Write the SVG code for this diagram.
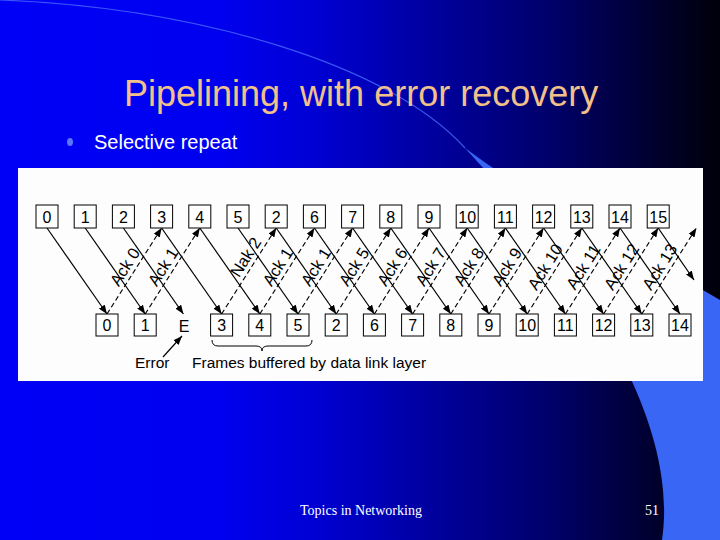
<svg xmlns="http://www.w3.org/2000/svg" width="720" height="540" viewBox="0 0 720 540">
<defs>
<linearGradient id="bg" x1="0" y1="0" x2="720" y2="0" gradientUnits="userSpaceOnUse">
<stop offset="0" stop-color="#0000f6"/>
<stop offset="0.3" stop-color="#0000f0"/>
<stop offset="0.42" stop-color="#0000d8"/>
<stop offset="0.58" stop-color="#0000a5"/>
<stop offset="0.76" stop-color="#00006c"/>
<stop offset="0.9" stop-color="#000032"/>
<stop offset="1" stop-color="#00000a"/>
</linearGradient>
<marker id="ah" markerUnits="userSpaceOnUse" markerWidth="9" markerHeight="7" viewBox="0 0 9 7" refX="9" refY="3.5" orient="auto">
<path d="M0,0 L9,3.5 L0,7 z" fill="#000"/>
</marker>
<style>
.box{fill:#fff;stroke:#000;stroke-width:1}
.num{font-family:"Liberation Sans",Arial,sans-serif;font-size:16px;fill:#000;text-anchor:middle}
.lbl{font-family:"Liberation Sans",Arial,sans-serif;font-size:16.5px;fill:#000;text-anchor:middle}
.cap{font-family:"Liberation Sans",Arial,sans-serif;font-size:15.5px;fill:#000}
.sol{stroke:#000;stroke-width:1.2;fill:none;marker-end:url(#ah)}
.dsh{stroke:#000;stroke-width:1.2;fill:none;stroke-dasharray:5 3;marker-end:url(#ah)}
</style>
</defs>
<rect x="0" y="0" width="720" height="540" fill="url(#bg)"/>
<path d="M0,0 C200,8 390,65 465,148" fill="none" stroke="#4a6cff" stroke-width="1.2" stroke-opacity="0.8"/>
<path d="M465,148 C515,203 685,385 662,540 L720,540 L720,300 C640,252 545,208 465,148 Z" fill="#3a66f6"/>
<text x="124" y="106" font-family="'Liberation Sans',Arial,sans-serif" font-size="36" fill="#f2c08a">Pipelining, with error recovery</text>
<ellipse cx="70" cy="142" rx="3" ry="4" fill="#5a78ff"/>
<text x="94" y="149" font-family="'Liberation Sans',Arial,sans-serif" font-size="20" fill="#ffffff">Selective repeat</text>
<rect x="18" y="168" width="685" height="213" fill="#fdfdfd"/>
<g id="connectors">
<line class="sol" x1="47" y1="228" x2="107" y2="314"/>
<line class="sol" x1="85.2" y1="228" x2="145.2" y2="314"/>
<line class="sol" x1="123.4" y1="228" x2="183.4" y2="314"/>
<line class="sol" x1="161.6" y1="228" x2="221.6" y2="314"/>
<line class="sol" x1="199.8" y1="228" x2="259.8" y2="314"/>
<line class="sol" x1="238" y1="228" x2="298" y2="314"/>
<line class="sol" x1="276.2" y1="228" x2="336.2" y2="314"/>
<line class="sol" x1="314.4" y1="228" x2="374.4" y2="314"/>
<line class="sol" x1="352.6" y1="228" x2="412.6" y2="314"/>
<line class="sol" x1="390.8" y1="228" x2="450.8" y2="314"/>
<line class="sol" x1="429" y1="228" x2="489" y2="314"/>
<line class="sol" x1="467.2" y1="228" x2="527.2" y2="314"/>
<line class="sol" x1="505.4" y1="228" x2="565.4" y2="314"/>
<line class="sol" x1="543.6" y1="228" x2="603.6" y2="314"/>
<line class="sol" x1="581.8" y1="228" x2="641.8" y2="314"/>
<line class="sol" x1="620" y1="228" x2="680" y2="314"/>
<line class="sol" x1="658.2" y1="228" x2="694" y2="280"/>
<line class="dsh" x1="107" y1="314" x2="161.6" y2="228"/>
<line class="dsh" x1="145.2" y1="314" x2="199.8" y2="228"/>
<line class="dsh" x1="221.6" y1="314" x2="276.2" y2="228"/>
<line class="dsh" x1="259.8" y1="314" x2="314.4" y2="228"/>
<line class="dsh" x1="298" y1="314" x2="352.6" y2="228"/>
<line class="dsh" x1="336.2" y1="314" x2="390.8" y2="228"/>
<line class="dsh" x1="374.4" y1="314" x2="429" y2="228"/>
<line class="dsh" x1="412.6" y1="314" x2="467.2" y2="228"/>
<line class="dsh" x1="450.8" y1="314" x2="505.4" y2="228"/>
<line class="dsh" x1="489" y1="314" x2="543.6" y2="228"/>
<line class="dsh" x1="527.2" y1="314" x2="581.8" y2="228"/>
<line class="dsh" x1="565.4" y1="314" x2="620" y2="228"/>
<line class="dsh" x1="603.6" y1="314" x2="658.2" y2="228"/>
<line class="dsh" x1="641.8" y1="314" x2="696.4" y2="228"/>
<line class="sol" x1="163" y1="357" x2="182" y2="336"/>
<path d="M212,340 Q212,346 218,346 L256,346 Q262,346 262,351 Q262,346 268,346 L306,346 Q312,346 312,340" fill="none" stroke="#000" stroke-width="1"/>
</g>
<g id="ack-labels">
<text class="lbl" transform="translate(134.3,271) rotate(-57.6)" x="-1.5" y="-4.5">Ack 0</text>
<text class="lbl" transform="translate(172.5,271) rotate(-57.6)" x="-1.5" y="-4.5">Ack 1</text>
<text class="lbl" transform="translate(248.9,271) rotate(-57.6)" x="10" y="-4.5">Nak 2</text>
<text class="lbl" transform="translate(287.1,271) rotate(-57.6)" x="-1.5" y="-4.5">Ack 1</text>
<text class="lbl" transform="translate(325.3,271) rotate(-57.6)" x="-1.5" y="-4.5">Ack 1</text>
<text class="lbl" transform="translate(363.5,271) rotate(-57.6)" x="-1.5" y="-4.5">Ack 5</text>
<text class="lbl" transform="translate(401.7,271) rotate(-57.6)" x="-1.5" y="-4.5">Ack 6</text>
<text class="lbl" transform="translate(439.9,271) rotate(-57.6)" x="-1.5" y="-4.5">Ack 7</text>
<text class="lbl" transform="translate(478.1,271) rotate(-57.6)" x="-1.5" y="-4.5">Ack 8</text>
<text class="lbl" transform="translate(516.3,271) rotate(-57.6)" x="-1.5" y="-4.5">Ack 9</text>
<text class="lbl" transform="translate(554.5,271) rotate(-57.6)" x="-1.5" y="-4.5">Ack 10</text>
<text class="lbl" transform="translate(592.7,271) rotate(-57.6)" x="-1.5" y="-4.5">Ack 11</text>
<text class="lbl" transform="translate(630.9,271) rotate(-57.6)" x="-1.5" y="-4.5">Ack 12</text>
<text class="lbl" transform="translate(669.1,271) rotate(-57.6)" x="-1.5" y="-4.5">Ack 13</text>
</g>
<g id="t0"><rect class="box" x="36" y="205" width="22" height="23"/><text class="num" x="47" y="222.5">0</text></g>
<g id="t1"><rect class="box" x="74.2" y="205" width="22" height="23"/><text class="num" x="85.2" y="222.5">1</text></g>
<g id="t2"><rect class="box" x="112.4" y="205" width="22" height="23"/><text class="num" x="123.4" y="222.5">2</text></g>
<g id="t3"><rect class="box" x="150.6" y="205" width="22" height="23"/><text class="num" x="161.6" y="222.5">3</text></g>
<g id="t4"><rect class="box" x="188.8" y="205" width="22" height="23"/><text class="num" x="199.8" y="222.5">4</text></g>
<g id="t5"><rect class="box" x="227" y="205" width="22" height="23"/><text class="num" x="238" y="222.5">5</text></g>
<g id="t6"><rect class="box" x="265.2" y="205" width="22" height="23"/><text class="num" x="276.2" y="222.5">2</text></g>
<g id="t7"><rect class="box" x="303.4" y="205" width="22" height="23"/><text class="num" x="314.4" y="222.5">6</text></g>
<g id="t8"><rect class="box" x="341.6" y="205" width="22" height="23"/><text class="num" x="352.6" y="222.5">7</text></g>
<g id="t9"><rect class="box" x="379.8" y="205" width="22" height="23"/><text class="num" x="390.8" y="222.5">8</text></g>
<g id="t10"><rect class="box" x="418" y="205" width="22" height="23"/><text class="num" x="429" y="222.5">9</text></g>
<g id="t11"><rect class="box" x="456.2" y="205" width="22" height="23"/><text class="num" x="467.2" y="222.5">10</text></g>
<g id="t12"><rect class="box" x="494.4" y="205" width="22" height="23"/><text class="num" x="505.4" y="222.5">11</text></g>
<g id="t13"><rect class="box" x="532.6" y="205" width="22" height="23"/><text class="num" x="543.6" y="222.5">12</text></g>
<g id="t14"><rect class="box" x="570.8" y="205" width="22" height="23"/><text class="num" x="581.8" y="222.5">13</text></g>
<g id="t15"><rect class="box" x="609" y="205" width="22" height="23"/><text class="num" x="620" y="222.5">14</text></g>
<g id="t16"><rect class="box" x="647.2" y="205" width="22" height="23"/><text class="num" x="658.2" y="222.5">15</text></g>
<g id="b0"><rect class="box" x="96" y="314" width="22" height="22"/><text class="num" x="107" y="331">0</text></g>
<g id="b1"><rect class="box" x="134.2" y="314" width="22" height="22"/><text class="num" x="145.2" y="331">1</text></g>
<g id="b2"><text class="num" x="184" y="332">E</text></g>
<g id="b3"><rect class="box" x="210.6" y="314" width="22" height="22"/><text class="num" x="221.6" y="331">3</text></g>
<g id="b4"><rect class="box" x="248.8" y="314" width="22" height="22"/><text class="num" x="259.8" y="331">4</text></g>
<g id="b5"><rect class="box" x="287" y="314" width="22" height="22"/><text class="num" x="298" y="331">5</text></g>
<g id="b6"><rect class="box" x="325.2" y="314" width="22" height="22"/><text class="num" x="336.2" y="331">2</text></g>
<g id="b7"><rect class="box" x="363.4" y="314" width="22" height="22"/><text class="num" x="374.4" y="331">6</text></g>
<g id="b8"><rect class="box" x="401.6" y="314" width="22" height="22"/><text class="num" x="412.6" y="331">7</text></g>
<g id="b9"><rect class="box" x="439.8" y="314" width="22" height="22"/><text class="num" x="450.8" y="331">8</text></g>
<g id="b10"><rect class="box" x="478" y="314" width="22" height="22"/><text class="num" x="489" y="331">9</text></g>
<g id="b11"><rect class="box" x="516.2" y="314" width="22" height="22"/><text class="num" x="527.2" y="331">10</text></g>
<g id="b12"><rect class="box" x="554.4" y="314" width="22" height="22"/><text class="num" x="565.4" y="331">11</text></g>
<g id="b13"><rect class="box" x="592.6" y="314" width="22" height="22"/><text class="num" x="603.6" y="331">12</text></g>
<g id="b14"><rect class="box" x="630.8" y="314" width="22" height="22"/><text class="num" x="641.8" y="331">13</text></g>
<g id="b15"><rect class="box" x="669" y="314" width="22" height="22"/><text class="num" x="680" y="331">14</text></g>
<g id="error-label"><text class="cap" x="135" y="368">Error</text></g>
<g id="buffer-label"><text class="cap" x="192" y="368">Frames buffered by data link layer</text></g>
<text x="300" y="515" font-family="'Liberation Serif','Times New Roman',serif" font-size="14" fill="#ffffff">Topics in Networking</text>
<text x="645" y="515" font-family="'Liberation Serif','Times New Roman',serif" font-size="14" fill="#ffffff">51</text>
</svg>
